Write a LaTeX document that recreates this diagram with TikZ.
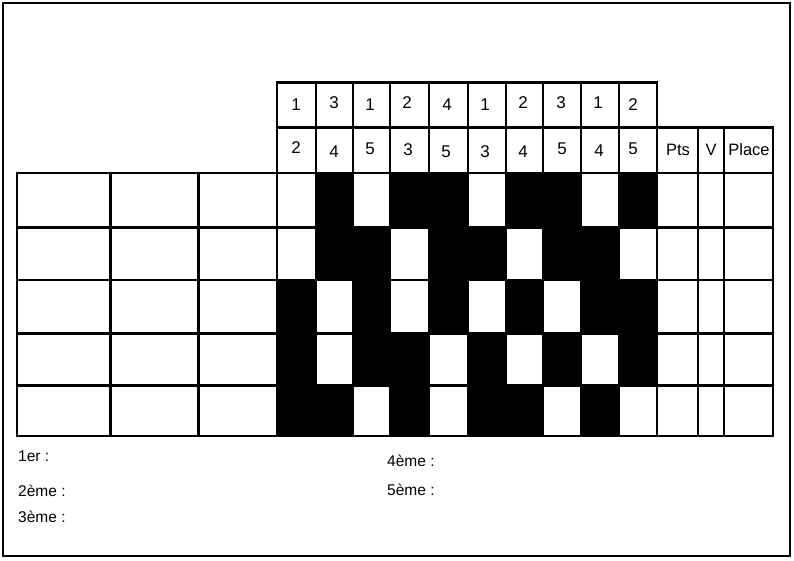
\documentclass[tikz,border=0pt]{standalone}
\usepackage{fontspec}
\setmainfont{Liberation Sans}
\begin{document}
\begin{tikzpicture}[x=1pt,y=-1pt,
  gridline/.style={line width=2.1pt,line cap=rect},
  frameline/.style={line width=2pt},
  cellfill/.style={fill=black},
  hdr/.style={inner sep=0pt,font=\fontsize{16.5}{19}\selectfont},
  numtxt/.style={inner sep=0pt,font=\fontsize{17}{19}\selectfont},
  rank/.style={inner sep=0pt,anchor=west,font=\fontsize{15.5}{18}\selectfont}]
\useasboundingbox (0,0) rectangle (794,561);
% column and row edges
\coordinate (c0) at (277,0);
\coordinate (c1) at (315.7,0);
\coordinate (c2) at (353.3,0);
\coordinate (c3) at (390,0);
\coordinate (c4) at (429.3,0);
\coordinate (c5) at (467.7,0);
\coordinate (c6) at (505.7,0);
\coordinate (c7) at (543.3,0);
\coordinate (c8) at (581,0);
\coordinate (c9) at (619,0);
\coordinate (c10) at (657,0);
\coordinate (r0) at (0,173);
\coordinate (r1) at (0,227.5);
\coordinate (r2) at (0,280);
\coordinate (r3) at (0,333.5);
\coordinate (r4) at (0,385.5);
\coordinate (r5) at (0,436);
% outer frame
\draw[frameline] (3,3) rectangle (789.5,556);
% black cells
\foreach \r/\cols in {1/{2,4,5,7,8,10},2/{2,3,5,6,8,9},3/{1,3,5,7,9,10},4/{1,3,4,6,8,10},5/{1,2,4,6,7,9}}{
  \foreach \c in \cols {
    \pgfmathtruncatemacro\pc{\c-1}
    \pgfmathtruncatemacro\pr{\r-1}
    \fill[cellfill] (c\pc |- r\pr) rectangle (c\c |- r\r);
  }
}
% horizontal lines
\draw[gridline] (277,82.5) -- (657,82.5);
\draw[gridline] (277,127.5) -- (773,127.5);
\foreach \i in {0,...,5} { \draw[gridline] (17,0 |- r\i) -- (773,0 |- r\i); }
% vertical lines
\foreach \x in {17,110.5,198.5} { \draw[gridline] (\x,173) -- (\x,436); }
\foreach \i in {0,...,10} { \draw[gridline] (c\i |- 0,82.5) -- (c\i |- r5); }
\foreach \x in {698,724,773} { \draw[gridline] (\x,127.5) -- (\x,436); }
% header numbers
\foreach \n/\x/\y/\t in {a1/296/105/1,a2/334/103/3,a3/370/105/1,a4/407/103/2,a5/447/105/4,a6/485/105/1,a7/523/103/2,a8/561/103/3,a9/598/103/1,a10/633/105/2}{
  \node[numtxt] (\n) at (\x,\y) {\t};
}
\foreach \n/\x/\y/\t in {b1/296/148/2,b2/334/152/4,b3/370/149/5,b4/408/150/3,b5/446/152/5,b6/485/152/3,b7/523/152/4,b8/562/149/5,b9/599/151/4,b10/633/149/5}{
  \node[numtxt] (\n) at (\x,\y) {\t};
}
\node[hdr] (pts) at (678,150) {Pts};
\node[hdr] (v) at (711,150) {V};
\node[hdr] (place) at (749,150) {Place};
% ranking lines
\node[rank] (p1) at (18,456) {1er :};
\node[rank] (p2) at (18,491) {2ème :};
\node[rank] (p3) at (18,517) {3ème :};
\node[rank] (p4) at (387,461) {4ème :};
\node[rank] (p5) at (387,490) {5ème :};
\end{tikzpicture}
\end{document}
